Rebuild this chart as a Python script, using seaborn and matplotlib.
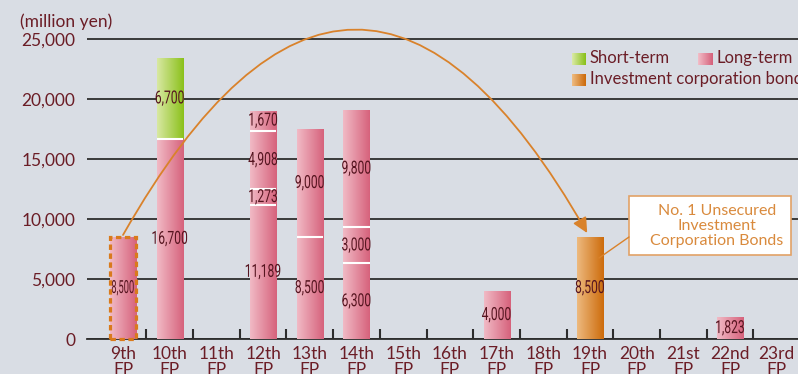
import numpy as np
import pandas as pd
import matplotlib
matplotlib.use("Agg")
import matplotlib.pyplot as plt
import seaborn as sns
from matplotlib.path import Path
from matplotlib.patches import FancyArrowPatch, Rectangle
from matplotlib.lines import Line2D
from matplotlib.transforms import Affine2D
from matplotlib.patheffects import AbstractPathEffect
from matplotlib.colors import LinearSegmentedColormap, to_rgb

# ---- data (million yen) ----
periods = ["9th\nFP", "10th\nFP", "11th\nFP", "12th\nFP", "13th\nFP", "14th\nFP",
           "15th\nFP", "16th\nFP", "17th\nFP", "18th\nFP", "19th\nFP", "20th\nFP",
           "21st\nFP", "22nd\nFP", "23rd\nFP"]
long_term_1 = [8500, 16700, 0, 11189, 8500, 6300, 0, 0, 4000, 0, 0, 0, 0, 1823, 0]
long_term_2 = [0, 0, 0, 1273, 9000, 3000, 0, 0, 0, 0, 0, 0, 0, 0, 0]
long_term_3 = [0, 0, 0, 4908, 0, 9800, 0, 0, 0, 0, 0, 0, 0, 0, 0]
long_term_4 = [0, 0, 0, 1670, 0, 0, 0, 0, 0, 0, 0, 0, 0, 0, 0]
short_term = [0, 6700, 0, 0, 0, 0, 0, 0, 0, 0, 0, 0, 0, 0, 0]
bonds = [0, 0, 0, 0, 0, 0, 0, 0, 0, 0, 8500, 0, 0, 0, 0]
y_ticks = [0, 5000, 10000, 15000, 20000, 25000]
legend_labels = ["Short-term", "Long-term", "Investment corporation bonds"]
callout_text = "No. 1 Unsecured\nInvestment\nCorporation Bonds"

# ---- style ----
BG = "#d9dde4"
INK = "#6b1d26"
LABEL_INK = "#561520"
GRID = "#2d2d2d"
ARC = "#d9822b"
PINK = ("#f1bac5", "#d6627c")
GREEN = ("#d8e8a2", "#8bc11b")
ORANGE = ("#edb97e", "#cd6c0c")

sns.set_theme(style="white")
plt.rcParams["font.family"] = ["Lato", "DejaVu Sans"]


class Squeeze(AbstractPathEffect):
    """Narrow the glyphs horizontally about their own centre (condensed look)."""

    def __init__(self, sx):
        super().__init__()
        self.sx = sx

    def draw_path(self, renderer, gc, tpath, affine, rgbFace=None):
        pts = affine.transform(tpath.vertices)
        cx = 0.5 * (pts[:, 0].min() + pts[:, 0].max()) if len(pts) else 0.0
        squeeze = Affine2D().translate(-cx, 0).scale(self.sx, 1).translate(cx, 0)
        renderer.draw_path(gc, tpath, affine + squeeze, rgbFace)


W, H = 798, 374
fig = plt.figure(figsize=(W / 100, H / 100), dpi=100)
fig.patch.set_facecolor(BG)
ax = fig.add_axes([87 / W, 35 / H, 711 / W, 312 / H])
ax.set_facecolor("none")

bar_w = 0.557
grad = np.linspace(0, 1, 64).reshape(1, -1)


def paint_gradient(container, colors, z):
    cmap = LinearSegmentedColormap.from_list("g", list(colors))
    for p in container.patches:
        h = p.get_height()
        if h <= 0:
            continue
        x0, y0, w = p.get_x(), p.get_y(), p.get_width()
        im = ax.imshow(grad, extent=(x0, x0 + w, y0, y0 + h), aspect="auto",
                       cmap=cmap, origin="lower", interpolation="bilinear",
                       zorder=z)
        im.set_clip_path(p)


layers = [(long_term_1, PINK), (long_term_2, PINK), (long_term_3, PINK),
          (long_term_4, PINK), (short_term, GREEN), (bonds, ORANGE)]

bottom = np.zeros(len(periods))
first_container = None
first_labels = None
for vals, colors in layers:
    vals = np.asarray(vals, dtype=float)
    df = pd.DataFrame({"period": periods, "value": vals})
    sns.barplot(data=df, x="period", y="value", order=periods,
                bottom=bottom.copy(), width=bar_w, color=colors[1],
                saturation=1, linewidth=0, errorbar=None, ax=ax, zorder=3)
    cont = ax.containers[-1]
    paint_gradient(cont, colors, 3.2)
    texts = ax.bar_label(cont, labels=[f"{int(v):,}" if v else "" for v in vals],
                         label_type="center", color=LABEL_INK, family="Roboto",
                         fontsize=13, zorder=5)
    for t in texts:
        t.set_path_effects([Squeeze(0.67)])
    if first_container is None:
        first_container, first_labels = cont, texts
    # thin white seams between stacked segments
    for i, (b, v) in enumerate(zip(bottom, vals)):
        if b > 0 and v > 0:
            ax.plot([i - bar_w / 2, i + bar_w / 2], [b, b], color="white",
                    lw=1.5, zorder=4, solid_capstyle="butt")
    bottom += vals

# the 9th FP label is squeezed further to sit inside its dashed frame
first_labels[0].set_path_effects([Squeeze(0.52)])

# dashed outline on the 9th FP bar
p9 = first_container.patches[0]
ax.add_patch(Rectangle((p9.get_x(), p9.get_y()), p9.get_width(), p9.get_height(),
                       fill=False, ec="#d97a1c", lw=2.3,
                       ls=(0, (1.7, 1.1)), zorder=5, clip_on=False))

# arc arrow from the 9th FP bar to the 19th FP bonds
i_bond = int(np.argmax(bonds))
p0 = (0.0, long_term_1[0] + 170)
p2 = (i_bond - 0.06, bonds[i_bond] + 330)
peak = 25750
ctrl = ((p0[0] + p2[0]) / 2, 2 * peak - (p0[1] + p2[1]) / 2)
arc = FancyArrowPatch(path=Path([p0, ctrl, p2], [Path.MOVETO, Path.CURVE3, Path.CURVE3]),
                      arrowstyle="-|>,head_length=0.45,head_width=0.22",
                      mutation_scale=20, color=ARC, lw=1.3, zorder=6, clip_on=False)
ax.add_patch(arc)

# axes styling
ax.set_xlim(-0.771, 14.454)
ax.set_ylim(0, 26000)
ax.set_xlabel("")
ax.set_ylabel("")
ax.set_yticks(y_ticks)
ax.set_yticklabels([f"{v:,}" for v in y_ticks])
ax.yaxis.grid(True, color=GRID, lw=1.3)
ax.xaxis.grid(False)
ax.set_axisbelow(True)
ax.tick_params(axis="y", length=0, pad=8.5, labelsize=12.5, labelcolor=INK)
ax.set_xticks(range(len(periods)))
ax.set_xticklabels(periods, linespacing=1.0)
ax.tick_params(axis="x", which="major", length=0, pad=5, labelsize=12.5,
               labelcolor=INK)
ax.set_xticks(np.arange(0.5, len(periods) - 1), minor=True)
ax.tick_params(axis="x", which="minor", bottom=True, direction="in", length=7,
               width=1.5, color=GRID)
for s in ("left", "top", "right"):
    ax.spines[s].set_visible(False)
ax.spines["bottom"].set_color(GRID)
ax.spines["bottom"].set_linewidth(1.3)
ax.spines["bottom"].set_zorder(2)

# unit label
fig.text(20 / W, 1 - 22 / H, "(million yen)", va="center", ha="left",
         fontsize=12.5, color=INK)


# legend with gradient swatches
def swatch(colors, w=14, h=12):
    a, b = np.array(to_rgb(colors[0])), np.array(to_rgb(colors[1]))
    t = np.linspace(0, 1, w)[None, :, None]
    row = a * (1 - t) + b * t
    return np.repeat(row, h, axis=0)


fig.figimage(swatch(GREEN), 572, H - 65, zorder=3)
fig.figimage(swatch(PINK, w=15), 698, H - 65, zorder=3)
fig.figimage(swatch(ORANGE), 572, H - 86, zorder=3)
fig.text(590 / W, 1 - 58 / H, legend_labels[0], va="center", fontsize=12, color=INK)
fig.text(716 / W, 1 - 58 / H, legend_labels[1], va="center", fontsize=12, color=INK)
fig.text(590 / W, 1 - 79 / H, legend_labels[2], va="center", fontsize=12, color=INK)

# callout box for the bonds
fig.add_artist(Rectangle((629 / W, 1 - 255 / H), 162 / W, 59 / H,
                         transform=fig.transFigure, fc="white", ec="#e2a266",
                         lw=1.2, zorder=4))
fig.add_artist(Line2D([629 / W, 599 / W], [1 - 237 / H, 1 - 258 / H],
                      transform=fig.transFigure, color=ARC, lw=1.0, zorder=4))
fig.text(717 / W, 1 - 226 / H, callout_text, ha="center", va="center",
         fontsize=11.5, color="#d98a3d", linespacing=1.12, zorder=5)

fig.savefig("out.png", dpi=100, facecolor=BG)
